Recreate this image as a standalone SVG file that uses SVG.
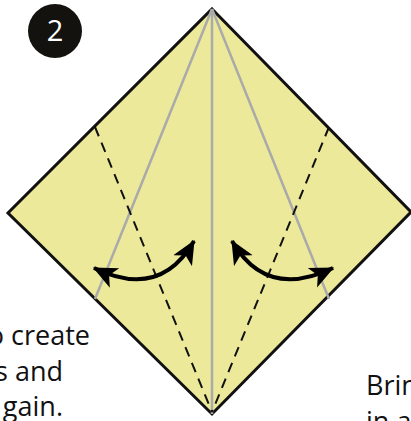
<svg xmlns="http://www.w3.org/2000/svg" width="411" height="421" viewBox="0 0 411 421">
<defs>
<style>
.t{font-family:"Open Sans","Liberation Sans",sans-serif;font-size:27px;fill:#111}
.g{stroke:#aaa;stroke-width:2.5;fill:none}
.d{stroke:#111;stroke-width:2;stroke-dasharray:10 7;fill:none}
.a{stroke:#000;stroke-width:4;fill:none}
</style>
<marker id="ah" viewBox="0 0 10 10" refX="9.5" refY="5" markerWidth="6" markerHeight="6" orient="auto-start-reverse" markerUnits="strokeWidth">
<path d="M0,0.5 L10,5 L0,9.5 L2.5,5 Z" fill="#000"/>
</marker>
</defs>
<rect width="411" height="421" fill="#fff"/>
<g id="paper">
<polygon points="212,9 411,212 212,414 8,213" fill="#ede99a" stroke="#111" stroke-width="3" stroke-linejoin="miter"/>
</g>
<g id="creases">
<line class="g" x1="212" y1="9" x2="212" y2="414"/>
<line class="g" x1="212" y1="9" x2="95" y2="299"/>
<line class="g" x1="212" y1="9" x2="329" y2="299"/>
<line class="d" x1="95" y1="127" x2="212" y2="412"/>
<line class="d" x1="329" y1="127" x2="212" y2="412"/>
</g>
<g id="connectors">
<path class="a" d="M94,268 Q160,300 194,241" marker-start="url(#ah)" marker-end="url(#ah)"/>
<path class="a" d="M232,241 Q266,300 333,268" marker-start="url(#ah)" marker-end="url(#ah)"/>
</g>
<g id="badge">
<circle cx="55" cy="31" r="27" fill="#14120e"/>
<text x="55" y="41" text-anchor="middle" class="t" style="fill:#fff;font-size:29px">2</text>
</g>
<g id="text-left">
<text class="t" x="90" y="345" text-anchor="end">o create</text>
<text class="t" x="63" y="381" text-anchor="end">s and</text>
<text class="t" x="63" y="416" text-anchor="end">gain.</text>
</g>
<g id="text-right">
<text class="t" x="366" y="395">Brin</text>
<text class="t" x="366" y="431">in a</text>
</g>
</svg>
